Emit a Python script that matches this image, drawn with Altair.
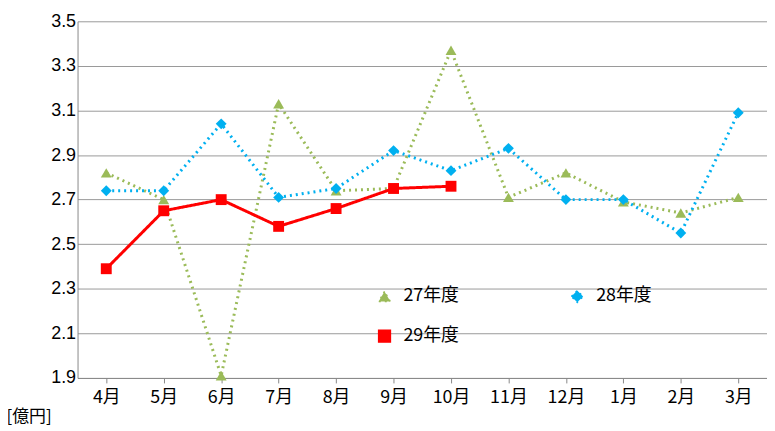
import altair as alt
import pandas as pd

months = ["4月","5月","6月","7月","8月","9月","10月","11月","12月","1月","2月","3月"]
s27 = [2.82,2.70,1.91,3.13,2.74,2.75,3.37,2.71,2.82,2.69,2.64,2.71]
s28 = [2.74,2.74,3.04,2.71,2.75,2.92,2.83,2.93,2.70,2.70,2.55,3.09]
s29 = [2.39,2.65,2.70,2.58,2.66,2.75,2.76]

rows = []
for name, vals in [("27年度", s27), ("28年度", s28), ("29年度", s29)]:
    for i, v in enumerate(vals):
        rows.append({"month": months[i], "series": name, "value": v, "order": i})
df = pd.DataFrame(rows)

dom = ["27年度", "28年度", "29年度"]
color = alt.Color("series:N", scale=alt.Scale(domain=dom, range=["#9BBB59", "#00B0F0", "#FF0000"]),
                  legend=alt.Legend(title=None, orient="none", legendX=300, legendY=268, columns=2,
                                    direction="horizontal", columnPadding=110, rowPadding=22, labelFontSize=18,
                                    symbolSize=140, labelFont="Noto Sans CJK JP", labelOffset=10))
x = alt.X("month:O", sort=months, title=None,
          axis=alt.Axis(labelAngle=0, labelFontSize=18, labelFont="Noto Sans CJK JP", labelColor="black",
                        ticks=True, tickColor="#888", domainColor="#888", labelPadding=6, grid=False))
y = alt.Y("value:Q", scale=alt.Scale(domain=[1.9, 3.5]), title="[億円]",
          axis=alt.Axis(values=[1.9,2.1,2.3,2.5,2.7,2.9,3.1,3.3,3.5], format=".1f", labelFontSize=18,
                        labelColor="black", gridColor="#999", domainColor="#888", ticks=False,
                        titleAngle=0, titleX=-72, titleY=390, titleAlign="left", titleBaseline="top",
                        titleFontSize=17, titleFontWeight="normal", titleFont="Noto Sans CJK JP"))

lines = alt.Chart(df).mark_line(strokeWidth=3).encode(
    x=x, y=y, color=color, order="order:Q",
    strokeDash=alt.StrokeDash("series:N", scale=alt.Scale(domain=dom, range=[[2, 4], [2, 4], [1, 0]]), legend=None))
pts = alt.Chart(df).mark_point(filled=True, size=120, opacity=1).encode(
    x=x, y=y, color=color,
    shape=alt.Shape("series:N", scale=alt.Scale(domain=dom, range=["triangle-up", "diamond", "square"])))

chart = (lines + pts).properties(width=694, height=359, autosize="none",
                                 padding={"left": 70, "top": 12, "right": 0, "bottom": 50}).configure_view(stroke=None)
chart.save("out.html", embed_options={"renderer": "svg", "actions": False})
